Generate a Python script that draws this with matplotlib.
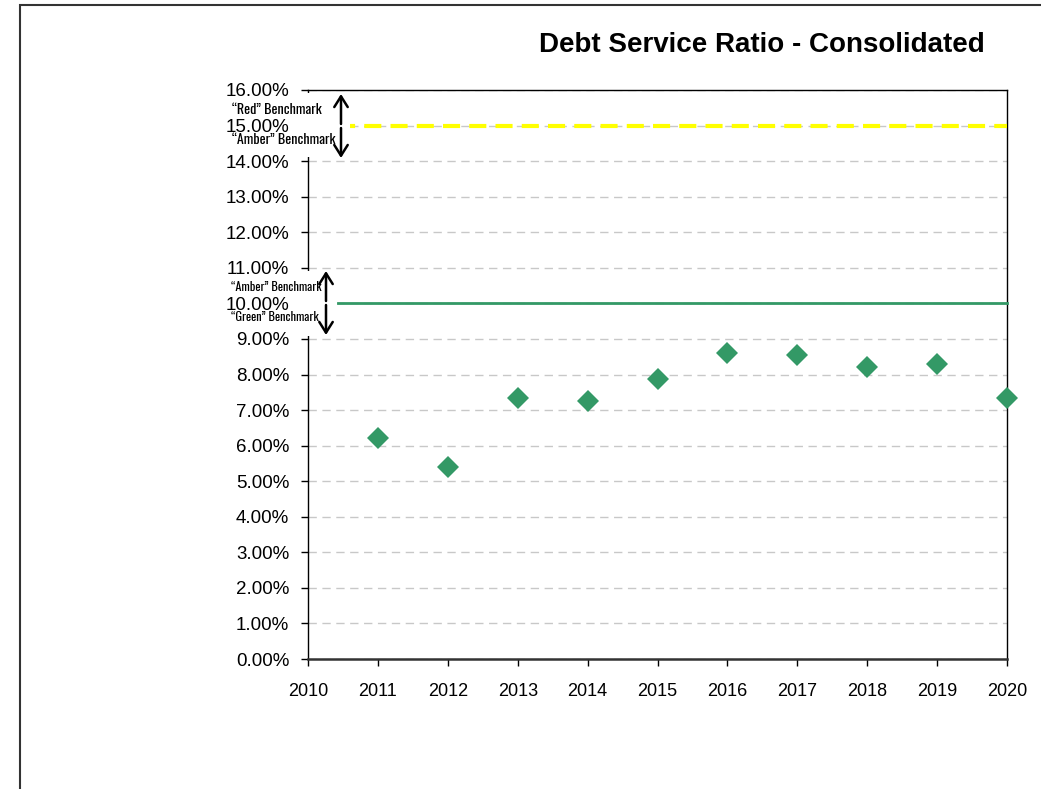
import matplotlib
matplotlib.use("Agg")
import matplotlib.pyplot as plt
from matplotlib.patches import Rectangle, FancyArrowPatch
from matplotlib.ticker import FuncFormatter, MultipleLocator

years = [2011, 2012, 2013, 2014, 2015, 2016, 2017, 2018, 2019, 2020]
ratio = [6.21, 5.40, 7.34, 7.26, 7.87, 8.61, 8.55, 8.21, 8.30, 7.34]
red_amber_benchmark = 15.0
amber_green_benchmark = 10.0
title = "Debt Service Ratio - Consolidated"
red_labels = ["\u201cRed\u201d Benchmark", "\u201cAmber\u201d Benchmark"]
green_labels = ["\u201cAmber\u201d Benchmark", "\u201cGreen\u201d Benchmark"]

plt.rcParams['font.family'] = ['Liberation Sans', 'DejaVu Sans']

W, H = 1041, 789
fig = plt.figure(figsize=(W / 100, H / 100), dpi=100)

# figure frame
fig.patches.append(Rectangle((20 / W, -0.1), 1.2, 1 - 5 / H + 0.1, transform=fig.transFigure,
                             fill=False, edgecolor='#333333', linewidth=1.5, zorder=0))

ax = fig.add_axes([308 / W, 1 - 659 / H, (1007 - 308) / W, (659 - 90) / H])
ax.set_xlim(2010, 2020)
ax.set_ylim(0, 16)
ax.yaxis.set_major_locator(MultipleLocator(1))
ax.xaxis.set_major_locator(MultipleLocator(1))
ax.yaxis.set_major_formatter(FuncFormatter(lambda v, p: f"{v:.2f}%"))
ax.xaxis.set_major_formatter(FuncFormatter(lambda v, p: f"{int(round(v))}"))

for s in ax.spines.values():
    s.set_color('black')
    s.set_linewidth(1.0)
ax.spines['bottom'].set_linewidth(1.8)
ax.spines['bottom'].set_color('#333333')

ax.tick_params(axis='both', direction='out', length=5, width=1, colors='black', labelsize=13.5)
ax.tick_params(axis='x', pad=12, labelsize=13)
ax.tick_params(axis='y', pad=8.5)

ax.grid(axis='y', color='#c8c8c8', linestyle=(0, (6, 4)), linewidth=1)
ax.set_axisbelow(True)

x0 = 2010.43
ax.plot([x0, 2020], [red_amber_benchmark] * 2, color='#ffff00', linewidth=3,
        linestyle=(0, (4.1, 2.2)), zorder=3, clip_on=False)
ax.plot([x0, 2020], [amber_green_benchmark] * 2, color='#339966', linewidth=2, zorder=3,
        clip_on=False)

ax.plot(years, ratio, linestyle='none', marker='D', markersize=11.5, color='#339966',
        markeredgewidth=0, zorder=5, clip_on=False)

fig.text(985 / W, 1 - 45 / H, title, ha='right', va='center', fontsize=20, fontweight='bold')

# benchmark annotations
lab_family = ['Oswald', 'Barlow Condensed', 'Archivo Narrow', 'DejaVu Sans']

def mask(x1, x2, y1, y2):
    fig.patches.append(Rectangle((x1 / W, 1 - y2 / H), (x2 - x1) / W, (y2 - y1) / H,
                                 transform=fig.transFigure, facecolor='white',
                                 edgecolor='none', zorder=2.5))

mask(300, 350, 93, 157)
mask(300, 337, 271, 336)

def arrow(x, y1, y2):
    fig.add_artist(FancyArrowPatch((x / W, 1 - y1 / H), (x / W, 1 - y2 / H),
                                   transform=fig.transFigure,
                                   arrowstyle='->,head_length=3.5,head_width=2.2',
                                   color='black', linewidth=1.8, mutation_scale=2.2,
                                   zorder=6, shrinkA=0, shrinkB=0))

def bench(xtext, xarrow, y_up, y_dn, labels, yc, size):
    for y, lab in zip((y_up, y_dn), labels):
        fig.text(xtext / W, 1 - y / H, lab, ha='left', va='center', zorder=4,
                 family=lab_family, fontsize=size, fontweight='medium',
                 bbox=dict(facecolor='white', edgecolor='none', pad=0.05))
    arrow(xarrow, yc - 2, yc - 32)
    arrow(xarrow, yc + 2, yc + 32)

bench(232, 341, 110, 139, red_labels, 126, 10.1)
bench(231, 326, 287, 317, green_labels, 303, 8.9)

fig.savefig('out.png', dpi=100)
